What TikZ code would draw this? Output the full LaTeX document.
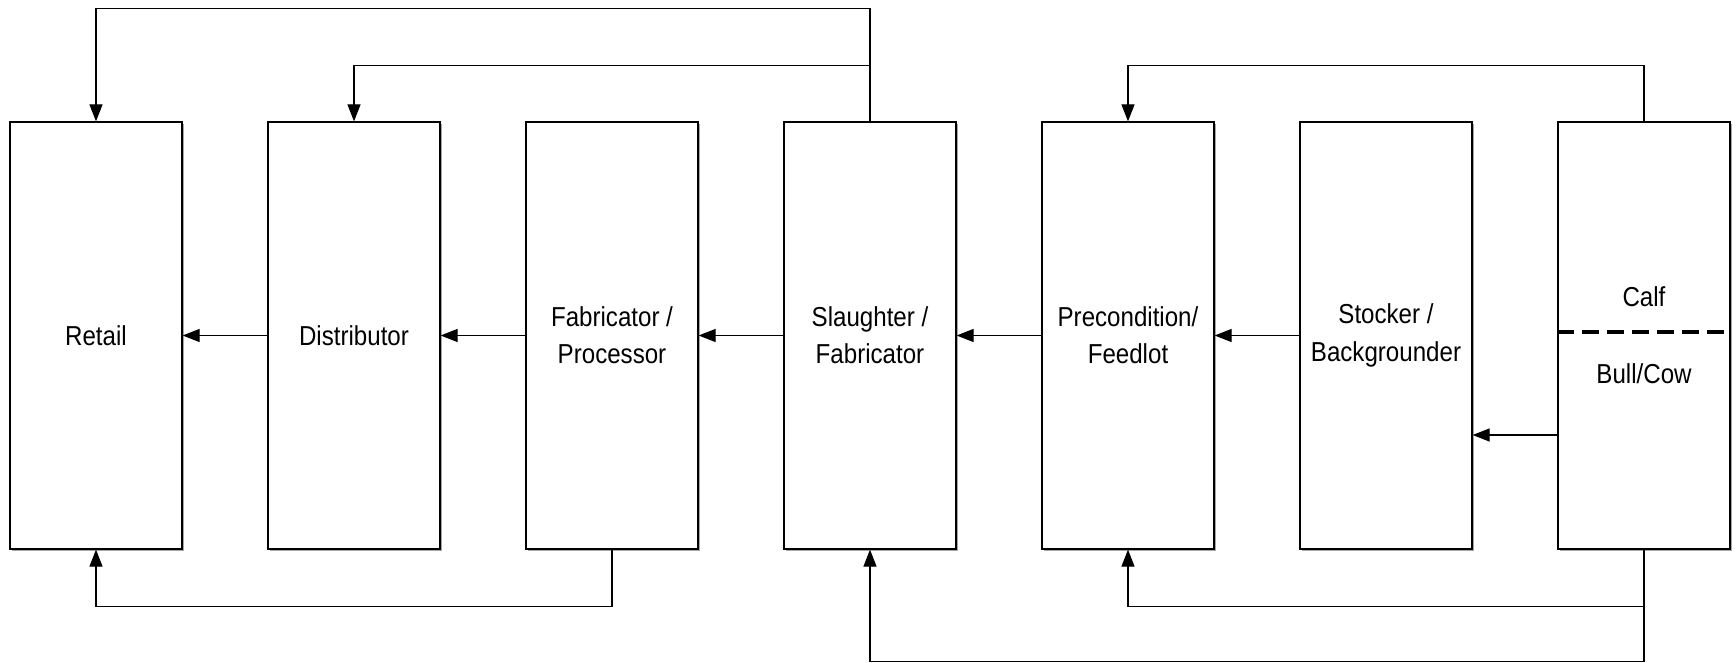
\documentclass[tikz,border=0pt]{standalone}
\usepackage{fontspec}
\setmainfont{Liberation Sans}[FakeStretch=0.88]
\usetikzlibrary{arrows.meta,shadows}
\begin{document}
\begin{tikzpicture}[x=0.5pt,y=-0.5pt,
  stagebox/.style={draw, line width=0.6pt, minimum width=86pt, minimum height=213.5pt,
    inner sep=0pt, align=center, fill=white, font=\fontsize{13.7pt}{18.6pt}\selectfont,
    general shadow={fill=gray!70, shadow xshift=0.8pt, shadow yshift=-0.8pt}},
  lbl/.style={inner sep=0pt, font=\fontsize{13.7pt}{18.6pt}\selectfont},
  arr/.style={line width=0.6pt, -{Triangle[length=8.5pt,width=6.5pt]}},
  ln/.style={line width=0.6pt}]
\useasboundingbox (0,0) rectangle (1736,663);
\node[stagebox] (retail) at (96,335.5) {Retail};
\node[stagebox] (dist) at (354,335.5) {Distributor};
\node[stagebox] (fab) at (612,335.5) {Fabricator /\\Processor};
\node[stagebox] (slaughter) at (870,335.5) {Slaughter /\\Fabricator};
\node[stagebox] (precond) at (1128,335.5) {Precondition/\\Feedlot};
\node[stagebox] (stocker) at (1386,335.5) {Stocker /\\Backgrounder};
\node[stagebox] (calf) at (1644,335.5) {};
\node[lbl] (calftxt) at (1644,297) {Calf};
\node[lbl] (bulltxt) at (1644,374) {Bull/Cow};
\draw[line width=2.2pt, dash pattern=on 8.5pt off 4pt] (calf.west |- 0,332) -- (calf.east |- 0,332);
% chain arrows
\draw[arr] (dist) -- (retail);
\draw[arr] (fab) -- (dist);
\draw[arr] (slaughter) -- (fab);
\draw[arr] (precond) -- (slaughter);
\draw[arr] (stocker) -- (precond);
\path (calf.west) ++(0,99.5) coordinate (cw);
\draw[arr] (cw) -- (cw -| stocker.east);
% top loops
\draw[arr] (slaughter.north) -- ++(0,-113) -| (retail.north);
\draw[arr] (slaughter.north) -- ++(0,-56) -| (dist.north);
\draw[arr] (calf.north) -- ++(0,-56) -| (precond.north);
% bottom loops
\draw[arr] (fab.south) -- ++(0,57) -| (retail.south);
\draw[arr] (calf.south) -- ++(0,57) -| (precond.south);
\draw[arr] (calf.south) -- ++(0,112) -| (slaughter.south);
\end{tikzpicture}
\end{document}
